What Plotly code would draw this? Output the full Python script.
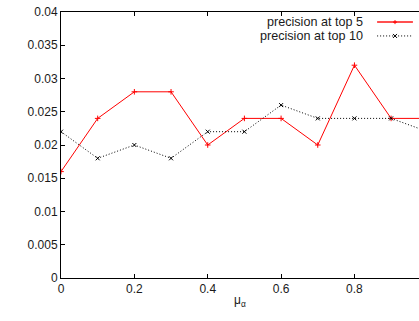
import plotly.graph_objects as go

mu = [0, 0.1, 0.2, 0.3, 0.4, 0.5, 0.6, 0.7, 0.8, 0.9, 1.0]
top5 = [0.016, 0.024, 0.028, 0.028, 0.020, 0.024, 0.024, 0.020, 0.032, 0.024, 0.024]
top10 = [0.022, 0.018, 0.020, 0.018, 0.022, 0.022, 0.026, 0.024, 0.024, 0.024, 0.022]
xticks = [0, 0.2, 0.4, 0.6, 0.8]
yticks = [0, 0.005, 0.01, 0.015, 0.02, 0.025, 0.03, 0.035, 0.04]
ytext = ["0", "0.005", "0.01", "0.015", "0.02", "0.025", "0.03", "0.035", "0.04"]

fig = go.Figure()
fig.add_trace(go.Scatter(x=mu, y=top5, mode="lines+markers", name="precision at top 5",
                         line=dict(color="#ff0000", width=1),
                         marker=dict(symbol="cross-thin", size=4, line=dict(color="#ff0000", width=1)),
                         cliponaxis=True))
fig.add_trace(go.Scatter(x=mu, y=top10, mode="lines+markers", name="precision at top 10",
                         line=dict(color="#000000", width=1, dash="1px,2px"),
                         marker=dict(symbol="x-thin", size=4, line=dict(color="#000000", width=1)),
                         cliponaxis=True))

font = dict(family="Liberation Sans, Arial, sans-serif", size=12, color="#1a1a1a")

fig.update_layout(
    width=419, height=321,
    margin=dict(l=61, r=0, t=12, b=43, autoexpand=False),
    plot_bgcolor="white", paper_bgcolor="white",
    showlegend=False,
    font=font,
    xaxis=dict(range=[0, 0.976], tickvals=xticks, ticktext=["0", "0.2", "0.4", "0.6", "0.8"],
               showgrid=False, zeroline=False, showline=True, linecolor="black", linewidth=1,
               mirror="ticks", ticks="inside", ticklen=4, tickcolor="black", automargin=False,
               title=dict(text="μ<sub>α</sub>", font=font, standoff=0)),
    yaxis=dict(range=[0, 0.04], tickvals=yticks, ticktext=ytext, automargin=False,
               showgrid=False, zeroline=False, showline=True, linecolor="black", linewidth=1,
               ticks="inside", ticklen=4, tickcolor="black"),
)

# gnuplot-style legend (text left, sample right), paper coordinates
lfont = dict(family="Liberation Sans, Arial, sans-serif", size=12.6, color="#1a1a1a")
legend_items = [("precision at top 5", "#ff5050", "solid", 0.962, "plus"),
                ("precision at top 10", "#000000", "1px,2px", 0.910, "x")]
for label, color, dash, yp, sym in legend_items:
    fig.add_annotation(x=0.849, y=yp, xref="paper", yref="paper", text=label, showarrow=False,
                       xanchor="right", yanchor="middle", font=lfont)
    fig.add_shape(type="line", xref="paper", yref="paper", x0=0.883, x1=0.983, y0=yp, y1=yp,
                  line=dict(color=color, width=2 if dash == "solid" else 1, dash=dash))
    mc = "#ff0000" if sym == "plus" else "#000000"
    if sym == "plus":
        segs = [(-2, 0, 2, 0), (0, -2, 0, 2)]
    else:
        segs = [(-2, -2, 2, 2), (-2, 2, 2, -2)]
    for a, b, c, d in segs:
        fig.add_shape(type="line", xref="paper", yref="paper",
                      xsizemode="pixel", ysizemode="pixel", xanchor=0.933, yanchor=yp,
                      x0=a, y0=b, x1=c, y1=d, line=dict(color=mc, width=1))

fig.write_html("out.html", config={"displayModeBar": False},
               post_script="document.body.style.margin='0';")
